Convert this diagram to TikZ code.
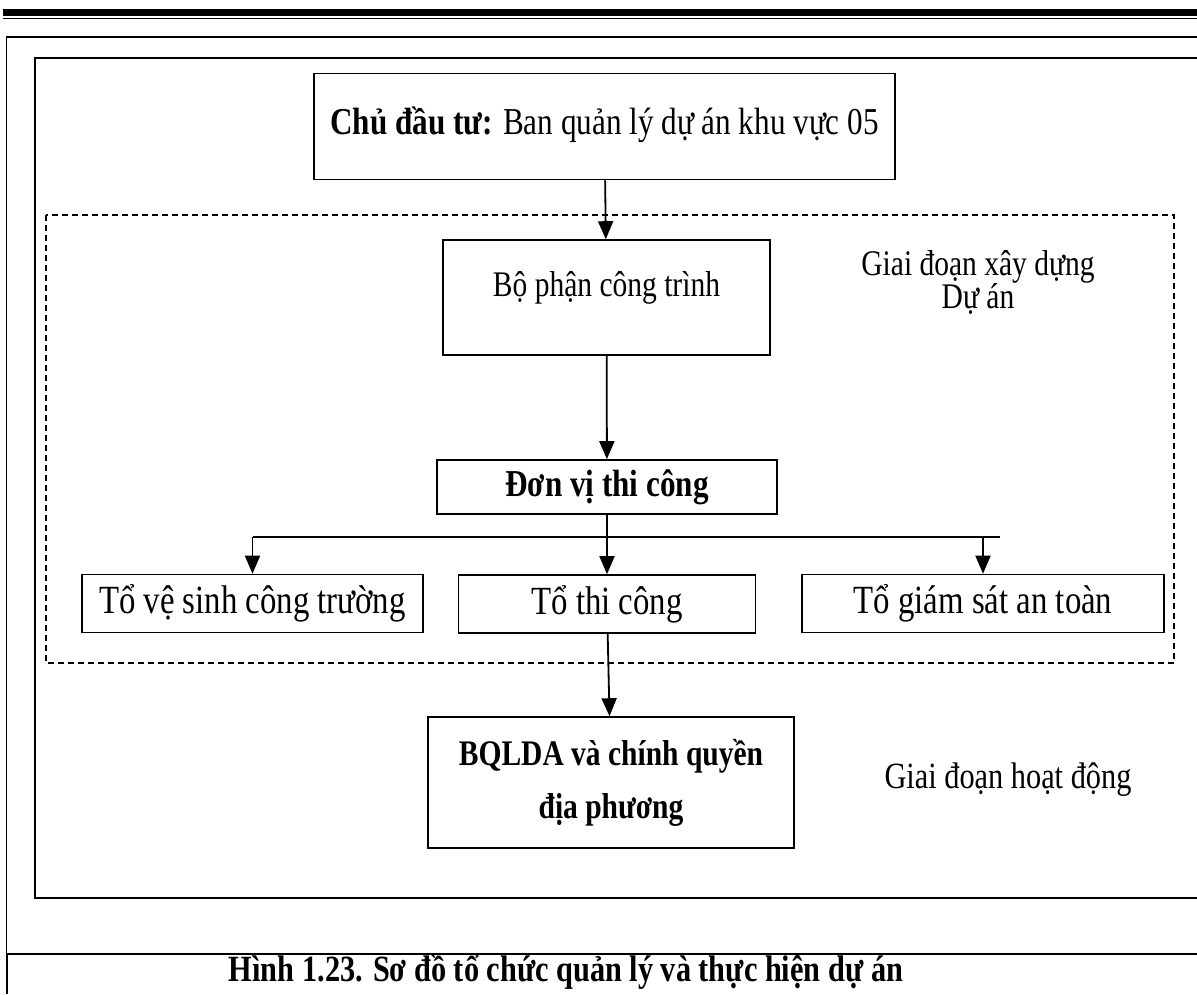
\documentclass[tikz,border=0pt]{standalone}
\usepackage{fontspec}
\setmainfont{Liberation Serif}[FakeStretch=0.82]
\usetikzlibrary{arrows.meta,positioning}
\begin{document}
\begin{tikzpicture}[x=1pt, y=-1pt, font=\fontsize{36}{40}\selectfont,
		box/.style = {draw, line width=1.6pt, align=center, inner sep=0pt},
		team/.style = {box, minimum height=58pt, font=\fontsize{40}{44}\selectfont},
		arr/.style = {line width=1.8pt, -{Triangle[length=18pt,width=15pt]}},
		frame/.style = {line width=2.2pt},
		phase/.style = {dash pattern=on 6pt off 4pt, line width=1.3pt}]
		\useasboundingbox (0,0) rectangle (1197,994);
		% page rules and frame
		\fill (3,8.5) rectangle (1197,16);
		\draw[line width=1.2pt] (3,18.8) -- (1197,18.8);
		\draw[frame] (6,37) -- (1197,37);
		\draw[line width=1.3pt] (6.5,37) -- (6.5,954);
		\draw[frame] (6,954) -- (1197,954);
		\draw[line width=2pt] (6.5,954) -- (6.5,994);
		\draw[line width=1.6pt] (1197,58) -- (35,58) -- (35,898) -- (1197,898);
		\draw[phase] (46,215) rectangle (1174,663);
		% boxes
		\node[box, minimum width=581pt, minimum height=106pt, text height=30pt, text depth=14pt, font=\fontsize{38}{42}\selectfont] (owner) at (604.5,126.5) {\textbf{Chủ đầu tư:} Ban quản lý dự án khu vực 05};
		\node[box, minimum width=327pt, minimum height=115pt, text height=30pt, text depth=32pt] (dept) at (606.5,297.5) {Bộ phận công trình};
		\node[box, minimum width=340pt, minimum height=54pt, font=\bfseries\fontsize{38}{42}\selectfont] (unit) at (607,487) {Đơn vị thi công};
		\node[team, minimum width=341pt] (team1) at (252.5,603.5) {Tổ vệ sinh công trường};
		\node[team, minimum width=297pt] (team2) at (607,604) {Tổ thi công};
		\node[team, minimum width=362pt] (team3) at (983,603.5) {Tổ giám sát an toàn};
		\node[box, minimum width=366pt, minimum height=131pt, font=\bfseries\fontsize{36}{53}\selectfont] (board) at (611,782.5) {BQLDA và chính quyền\\địa phương};
		% labels
		\node[align=center, font=\fontsize{36}{33}\selectfont] (build) at (978,282) {Giai đoạn xây dựng\\Dự án};
		\node[font=\fontsize{37}{40}\selectfont] (run) at (1008,780) {Giai đoạn hoạt động};
		\node[font=\bfseries\fontsize{37}{40}\selectfont] (caption) at (566,972) {Hình 1.23. Sơ đồ tổ chức quản lý và thực hiện dự án};
		% connectors
		\coordinate (forkL) at (252.5,537);
		\coordinate (forkR) at (1000,537);
		\draw[arr] (owner) -- (dept);
		\draw[arr] (dept) -- (unit);
		\draw[line width=1.8pt] (forkL) -- (forkR);
		\draw[arr] (forkL) -- (team1);
		\draw[arr] (unit) -- (team2);
		\draw[arr] (team3.north |- forkL) -- (team3);
		\draw[arr] (team2) -- (board);
	\end{tikzpicture}
\end{document}
